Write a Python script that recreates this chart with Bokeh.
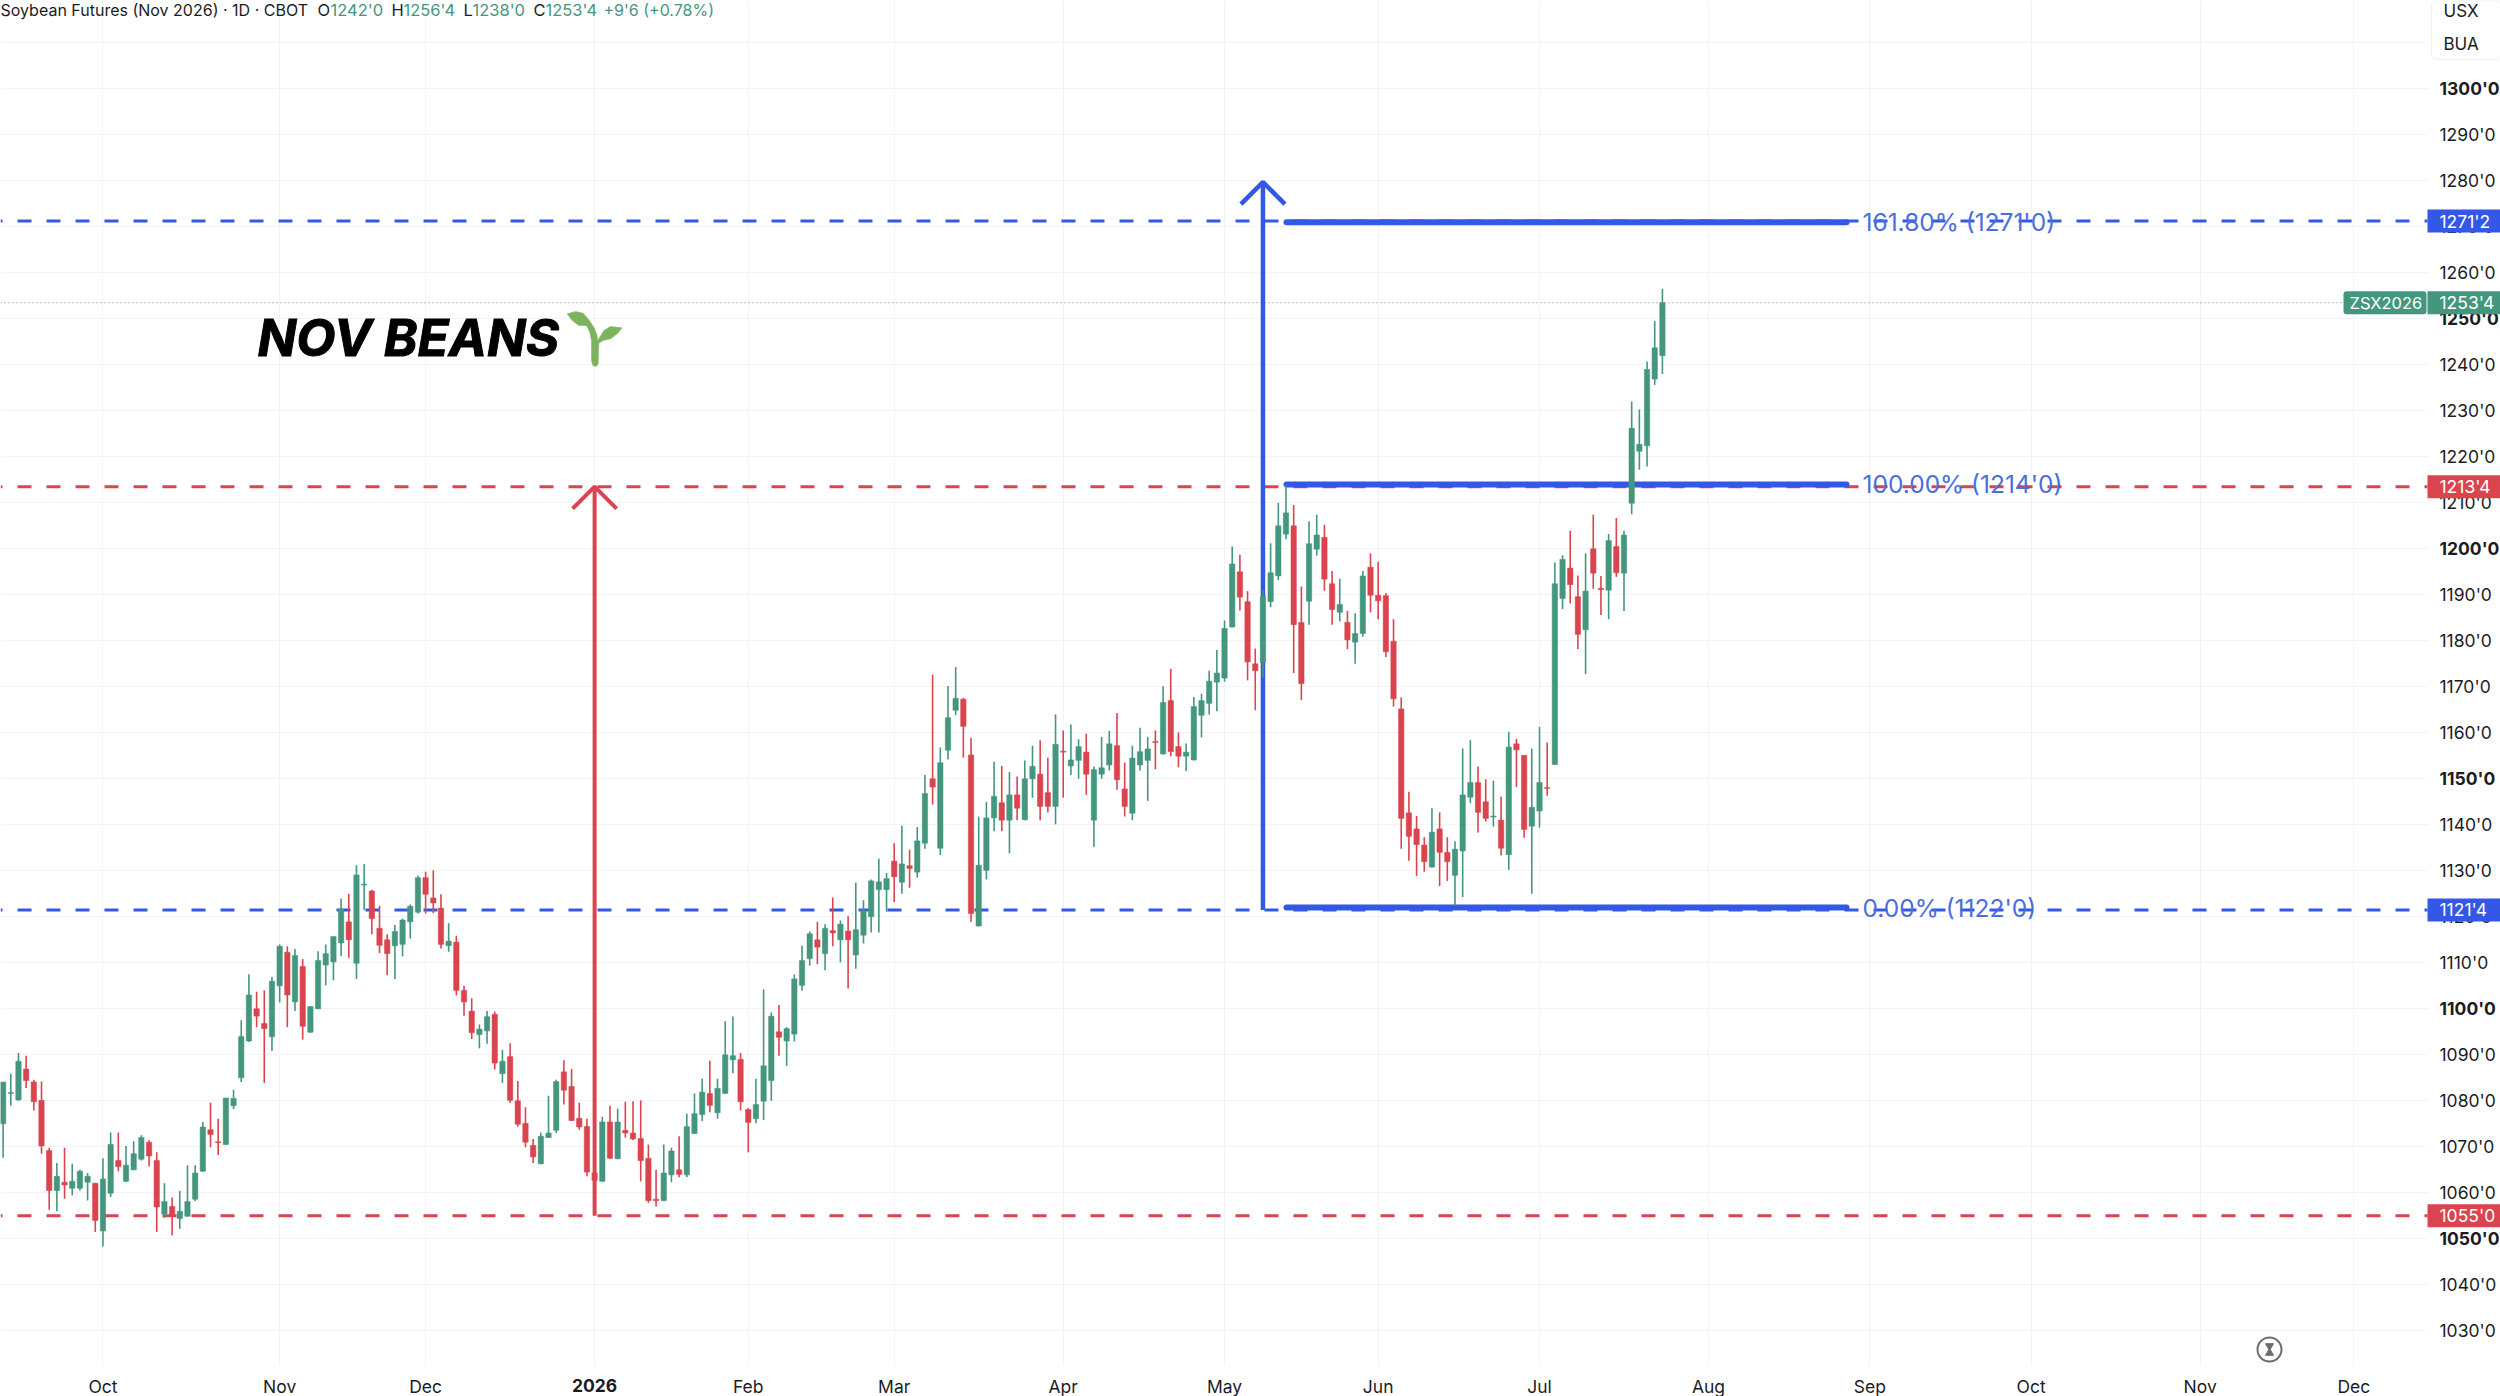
from bokeh.plotting import figure
from bokeh.models import Label, BoxAnnotation, FixedTicker, Range1d, LinearAxis, Grid
from bokeh.core.properties import value
from bokeh.embed import file_html
from bokeh.resources import INLINE

# ---------- chart values (cents/bushel, daily candles, trading-day order) ----------
opens = [1075.0,1081.6,1080.2,1086.9,1084.1,1080.1,1069.2,1060.5,1062.3,1061.0,1061.0,1062.3,1062.1,1051.7,1059.9,1067.0,1062.5,1065.0,1067.3,1071.0,
1067.0,1055.4,1057.0,1054.4,1054.9,1058.6,1064.7,1073.7,1071.1,1070.5,1078.9,1085.0,1093.0,1100.0,1096.8,1093.9,1105.0,1112.3,1101.5,1109.2,
1094.9,1100.0,1109.5,1110.2,1114.3,1118.9,1109.9,1126.9,1125.6,1117.5,1115.0,1113.7,1114.0,1118.9,1121.0,1128.5,1124.1,1121.9,1113.7,1114.5,
1104.0,1099.5,1094.4,1095.2,1098.8,1085.9,1089.6,1080.0,1075.1,1070.3,1066.3,1072.0,1073.6,1086.3,1083.1,1076.2,1074.4,1064.3,1062.5,1075.4,
1067.4,1073.6,1073.0,1071.8,1067.5,1058.6,1058.3,1063.9,1065.0,1063.9,1072.9,1077.0,1081.6,1077.4,1081.6,1088.9,1089.0,1078.1,1076.1,1079.9,
1084.4,1095.0,1093.0,1094.5,1105.1,1110.9,1115.0,1112.0,1117.0,1115.0,1116.9,1111.7,1116.0,1120.0,1125.9,1125.9,1132.1,1127.5,1131.1,1129.7,
1136.0,1150.0,1134.9,1156.2,1164.9,1167.3,1155.2,1118.0,1130.1,1141.5,1144.8,1141.0,1146.5,1141.1,1150.0,1151.0,1147.0,1144.0,1156.0,1152.8,
1154.0,1155.8,1141.0,1151.0,1153.0,1157.2,1147.8,1142.5,1153.0,1154.0,1158.1,1155.4,1167.0,1157.0,1154.9,1154.1,1163.8,1166.4,1171.0,1171.9,
1183.0,1195.0,1188.5,1175.0,1175.3,1188.5,1194.1,1203.2,1205.0,1184.0,1188.6,1199.9,1202.5,1192.4,1186.2,1184.0,1179.7,1181.6,1196.0,1189.9,
1189.8,1179.9,1165.2,1142.6,1139.1,1135.6,1130.8,1139.1,1134.0,1129.0,1134.3,1146.0,1149.2,1145.0,1141.7,1141.0,1133.5,1157.6,1155.1,1139.7,
1143.0,1148.1,1153.1,1189.2,1195.8,1189.6,1182.4,1200.0,1191.4,1191.0,1200.5,1194.7,1209.9,1221.2,1222.4,1236.9,1242.0]
highs = [1084.1,1085.9,1090.4,1089.8,1084.6,1084.2,1069.8,1066.5,1069.8,1066.3,1065.0,1064.3,1062.1,1067.5,1073.1,1073.1,1070.2,1071.2,1072.5,1071.4,
1068.8,1062.1,1059.0,1060.4,1066.0,1066.0,1075.4,1079.6,1076.1,1080.6,1082.4,1097.5,1107.5,1103.7,1104.0,1106.9,1114.0,1113.6,1113.0,1110.8,
1100.5,1112.5,1114.0,1115.7,1123.9,1125.0,1131.2,1131.5,1125.9,1122.4,1116.2,1118.2,1119.6,1122.7,1129.0,1129.8,1130.1,1124.9,1118.6,1115.9,
1105.0,1102.3,1096.6,1099.5,1099.4,1091.1,1092.5,1084.3,1078.6,1071.7,1073.1,1081.1,1084.6,1088.8,1086.9,1079.6,1076.1,1065.0,1076.5,1078.9,
1078.3,1079.8,1079.9,1080.1,1070.5,1065.0,1070.5,1069.8,1072.3,1077.2,1081.6,1084.8,1088.7,1084.8,1097.3,1098.3,1090.4,1078.4,1084.8,1104.2,
1099.2,1100.8,1096.0,1107.5,1113.7,1116.8,1118.9,1118.4,1124.2,1119.2,1120.1,1127.4,1123.6,1128.1,1132.6,1129.5,1136.0,1139.8,1134.6,1139.5,
1150.8,1172.6,1156.8,1170.2,1174.3,1167.6,1158.9,1141.8,1145.0,1153.7,1152.8,1151.5,1150.5,1154.0,1157.2,1158.4,1154.6,1164.0,1160.5,1161.8,
1158.6,1159.8,1152.7,1159.1,1160.4,1164.3,1153.5,1157.2,1161.1,1159.1,1160.5,1170.1,1173.9,1160.1,1157.7,1167.8,1168.5,1173.5,1178.0,1184.4,
1200.5,1198.7,1190.8,1178.3,1191.0,1201.2,1210.0,1213.8,1209.5,1191.8,1206.0,1207.4,1205.2,1195.2,1193.5,1186.5,1186.0,1195.2,1199.0,1197.2,
1190.4,1184.7,1167.7,1147.2,1141.9,1137.3,1143.6,1142.7,1137.3,1136.4,1156.6,1158.4,1152.7,1149.9,1149.6,1146.1,1160.2,1158.7,1155.1,1156.6,
1161.3,1157.9,1197.0,1198.6,1203.9,1194.2,1199.0,1207.4,1194.1,1203.2,1206.7,1203.9,1232.0,1230.3,1240.7,1249.5,1256.5]
lows = [1067.6,1079.0,1080.0,1082.8,1077.9,1068.5,1056.3,1056.0,1058.7,1059.4,1060.5,1058.3,1051.5,1048.3,1059.1,1064.7,1062.3,1064.9,1067.0,1065.7,
1051.5,1054.6,1050.7,1052.2,1054.8,1058.2,1064.6,1069.9,1068.2,1070.4,1078.2,1084.1,1092.8,1096.0,1083.9,1090.8,1101.4,1096.0,1099.5,1093.3,
1094.8,1099.9,1105.1,1106.2,1111.4,1111.1,1106.5,1121.4,1116.2,1112.1,1107.3,1106.5,1111.4,1115.3,1120.7,1120.7,1120.8,1113.1,1112.4,1102.9,
1098.5,1093.4,1091.4,1092.4,1086.8,1083.9,1079.6,1074.4,1069.9,1066.5,1066.2,1071.9,1073.0,1079.2,1075.6,1073.7,1063.6,1062.0,1062.4,1067.4,
1067.3,1072.0,1071.5,1062.5,1057.8,1057.0,1058.2,1062.3,1063.4,1063.4,1072.8,1075.6,1077.5,1076.1,1081.5,1086.0,1077.9,1068.8,1075.1,1075.8,
1080.0,1089.8,1087.6,1092.9,1103.9,1109.4,1109.7,1108.4,1113.6,1110.1,1104.4,1108.7,1114.2,1116.6,1116.6,1121.1,1123.2,1125.0,1126.3,1128.5,
1134.8,1144.4,1133.4,1154.2,1163.9,1154.6,1118.9,1117.9,1128.1,1138.6,1138.6,1133.8,1141.0,1141.0,1145.9,1141.0,1142.7,1140.1,1145.9,1150.8,
1150.0,1146.5,1135.2,1150.0,1151.8,1147.6,1141.8,1141.0,1151.8,1145.2,1152.1,1155.3,1154.9,1152.5,1151.7,1154.0,1159.0,1164.0,1164.7,1171.1,
1182.9,1186.6,1171.4,1164.9,1172.1,1187.3,1193.2,1202.1,1173.0,1167.1,1183.5,1198.5,1190.9,1183.5,1184.2,1178.2,1175.0,1180.9,1186.2,1184.7,
1176.5,1165.7,1134.8,1132.2,1128.9,1129.8,1130.7,1126.7,1127.8,1122.4,1124.3,1144.7,1138.3,1140.7,1139.6,1133.3,1130.2,1148.2,1137.2,1125.0,
1139.4,1146.3,1153.0,1186.9,1188.1,1178.2,1172.8,1191.3,1185.6,1184.7,1193.9,1186.5,1207.5,1217.2,1217.9,1235.6,1238.0]
closes = [1084.1,1081.8,1088.6,1084.4,1079.8,1070.2,1060.5,1063.6,1061.7,1062.5,1064.7,1063.6,1054.0,1063.0,1070.5,1065.7,1066.0,1068.5,1072.0,1068.0,
1056.9,1058.1,1054.9,1056.0,1058.1,1064.3,1074.3,1072.7,1070.9,1080.6,1080.5,1094.0,1103.0,1098.4,1095.7,1106.0,1113.6,1103.0,1111.6,1096.2,
1100.5,1110.5,1112.0,1115.7,1121.7,1115.0,1129.1,1127.1,1119.6,1113.8,1112.0,1116.8,1119.3,1122.3,1128.5,1124.9,1123.0,1114.0,1114.7,1104.0,
1101.5,1094.8,1095.6,1098.3,1088.2,1088.6,1080.1,1074.9,1071.0,1067.8,1072.3,1073.0,1084.2,1082.3,1075.7,1074.3,1064.5,1062.7,1075.4,1067.5,
1075.4,1073.0,1071.7,1067.0,1058.3,1058.3,1064.3,1069.1,1064.0,1074.4,1077.2,1081.9,1079.0,1082.7,1090.0,1089.8,1079.8,1075.3,1079.2,1087.6,
1098.4,1093.8,1095.7,1106.5,1110.5,1116.3,1113.4,1117.5,1116.5,1118.4,1115.0,1117.2,1121.4,1127.8,1127.6,1128.3,1128.7,1131.5,1130.5,1136.5,
1146.8,1148.2,1153.5,1163.3,1167.5,1161.4,1120.7,1131.2,1141.5,1146.2,1141.0,1146.5,1143.6,1150.0,1152.7,1144.0,1144.0,1157.5,1155.8,1154.1,
1157.0,1151.0,1152.0,1152.4,1157.6,1149.8,1144.0,1154.5,1155.9,1156.5,1157.9,1166.6,1155.9,1154.9,1155.8,1165.7,1167.0,1171.2,1173.0,1182.7,
1196.7,1189.5,1175.4,1173.5,1189.6,1194.8,1205.0,1207.8,1183.5,1170.7,1201.1,1203.0,1193.4,1186.8,1187.9,1180.2,1181.6,1194.1,1189.9,1188.7,
1177.6,1167.4,1141.4,1137.5,1135.7,1132.0,1138.4,1134.0,1132.0,1134.7,1146.5,1149.2,1142.7,1141.4,1141.9,1134.9,1156.9,1156.3,1139.0,1143.8,
1149.2,1147.9,1192.4,1197.7,1192.2,1181.4,1190.8,1194.7,1191.1,1201.8,1194.8,1203.0,1226.2,1222.7,1239.0,1243.7,1253.5]

month_bars = [13,36,55,77,97,116,138,159,179,200,222,243,264,286,306]
month_labels = ["Oct","Nov","Dec","2026","Feb","Mar","Apr","May","Jun","Jul","Aug","Sep","Oct","Nov","Dec"]
bold_months = ["2026"]
price_ticks = list(range(1030, 1320, 10))
major_prices = [1050, 1100, 1150, 1200, 1250, 1300]
hidden_prices = [1310]

red_level_high, red_level_low = 1213.5, 1055.0
blue_level_high, blue_level_low = 1271.25, 1121.5
last_price = 1253.5
fib_levels = [1271.0, 1214.0, 1122.0]
fib_labels = ["161.80% (1271'0)", "100.00% (1214'0)", "0.00% (1122'0)"]
red_arrow_bar, blue_arrow_bar = 77, 164
blue_arrow_top = 1279.7
header_parts = [("Soybean Futures (Nov 2026) · 1D · CBOT", 0, "k"), ("O", 317, "k"), ("1242'0", 330, "g"),
                ("H", 391, "k"), ("1256'4", 403, "g"), ("L", 463, "k"), ("1238'0", 472, "g"),
                ("C", 533, "k"), ("1253'4", 545, "g"), ("+9'6 (+0.78%)", 603, "g")]

# ---------- styles / layout ----------
GREEN, RED, BLUE = "#45967f", "#d9444f", "#3358e6"
FIB_TEXT = "#4a6ede"
GRID = "#f2f3f5"
TXT = "#1c1c1f"
FONT = "Inter"
W, H, FW, FH = 2500, 1396, 2427, 1365
BAR0, BAR_W = 2.6, 7.682
Y1300, PX_PER = 88.3, 4.6

def i_of(px):
    return (px - BAR0) / BAR_W
def v_of(py):
    return 1300 - (py - Y1300) / PX_PER

p = figure(frame_width=W, frame_height=H, output_backend="svg", toolbar_location=None,
           x_range=Range1d(i_of(0), i_of(W)), y_range=Range1d(v_of(H), v_of(0)),
           x_axis_location=None, y_axis_location=None,
           min_border_left=0, min_border_top=0, min_border_right=0, min_border_bottom=0,
           outline_line_color=None, background_fill_color="white", border_fill_color="white")
p.grid.visible = False

def style_axis(ax, standoff, size="17.5px", bold=False):
    ax.axis_line_color = None
    ax.major_tick_line_color = None
    ax.minor_tick_line_color = None
    ax.major_label_text_font = FONT
    ax.major_label_text_font_size = size
    ax.major_label_text_color = TXT
    ax.major_label_standoff = standoff
    if bold:
        ax.major_label_text_font_style = "bold"

# price scale: regular and bold labels are two axes on the same scale
normal_prices = [t for t in price_ticks if t not in major_prices and t not in hidden_prices]
y_ax = LinearAxis(ticker=FixedTicker(ticks=normal_prices), fixed_location=i_of(FW),
                  major_label_overrides={t: f"{t}'0" for t in normal_prices})
style_axis(y_ax, 6)
p.add_layout(y_ax, "right")
y_ax_b = LinearAxis(ticker=FixedTicker(ticks=major_prices), fixed_location=i_of(FW),
                    major_label_overrides={t: f"{t}'0" for t in major_prices})
style_axis(y_ax_b, 6, bold=True)
p.add_layout(y_ax_b, "right")

# time scale
normal_bars = [b for b, l in zip(month_bars, month_labels) if l not in bold_months]
x_ax = LinearAxis(ticker=FixedTicker(ticks=normal_bars), fixed_location=v_of(FH),
                  major_label_overrides={b: l for b, l in zip(month_bars, month_labels) if l not in bold_months})
style_axis(x_ax, 4)
p.add_layout(x_ax, "below")
bold_bars = [b for b, l in zip(month_bars, month_labels) if l in bold_months]
x_ax_b = LinearAxis(ticker=FixedTicker(ticks=bold_bars), fixed_location=v_of(FH),
                    major_label_overrides={b: l for b, l in zip(month_bars, month_labels) if l in bold_months})
style_axis(x_ax_b, 7, bold=True)
p.add_layout(x_ax_b, "below")

p.add_layout(Grid(dimension=0, ticker=FixedTicker(ticks=month_bars), grid_line_color=GRID, grid_line_width=1))
p.add_layout(Grid(dimension=1, ticker=FixedTicker(ticks=price_ticks), grid_line_color=GRID, grid_line_width=1))
# the grid stops at the price and time scales
p.quad(left=[i_of(FW), i_of(0)], right=[i_of(W), i_of(W)], top=[v_of(0), v_of(FH)], bottom=[v_of(H), v_of(H)],
       fill_color="white", line_color=None)

# reference levels
x_l, x_r = i_of(0), i_of(FW)
for lvl, col in [(blue_level_high, BLUE), (red_level_high, RED), (blue_level_low, BLUE), (red_level_low, RED)]:
    p.line([x_l, x_r], [lvl, lvl], line_color=col, line_width=3, line_dash="14 15", line_dash_offset=12)
p.line([x_l, i_of(2344)], [last_price, last_price], line_color="#5f8377", line_width=1, line_dash="1 3")

# arrows
hw, hh = 22 / BAR_W, 22 / PX_PER
p.line([red_arrow_bar, red_arrow_bar], [red_level_low, red_level_high], line_color=RED, line_width=4)
p.line([red_arrow_bar - hw, red_arrow_bar, red_arrow_bar + hw],
       [red_level_high - hh, red_level_high, red_level_high - hh], line_color=RED, line_width=4)
p.line([blue_arrow_bar, blue_arrow_bar], [blue_level_low, blue_arrow_top], line_color=BLUE, line_width=4.5)
p.line([blue_arrow_bar - hw, blue_arrow_bar, blue_arrow_bar + hw],
       [blue_arrow_top - hh, blue_arrow_top, blue_arrow_top - hh], line_color=BLUE, line_width=4.5)

# fib levels
fx0, fx1 = i_of(1286), i_of(1846)
for lvl in fib_levels:
    p.line([fx0, fx1], [lvl, lvl], line_color=BLUE, line_width=6, line_cap="round")

# candles
idx = list(range(len(closes)))
colors = [GREEN if c >= o else RED for o, c in zip(opens, closes)]
p.segment(idx, highs, idx, lows, line_color=colors, line_width=1.6)
p.vbar(x=idx, bottom=[min(o, c) for o, c in zip(opens, closes)], top=[max(o, c) for o, c in zip(opens, closes)],
       width=5.4 / BAR_W, fill_color=colors, line_color=colors, line_width=0.5)

# fib labels
p.text(x=[i_of(1862)] * 3, y=fib_levels, text=fib_labels, text_color=FIB_TEXT, text_font=value(FONT),
       text_font_size="24.5px", text_baseline="middle", text_align="left")

# sprout decoration
sprout_px = [(20,40),(45,33),(68,38),(85,58),(100,80),(108,100),(112,120),(130,90),(150,78),(185,82),(170,100),
             (150,115),(128,120),(115,128),(113,190),(107,198),(97,195),(93,180),(93,120),(88,95),(78,75),(55,75),(35,60)]
p.patch([i_of(560 + a / 3) for a, _ in sprout_px], [v_of(300 + b / 3) for _, b in sprout_px],
        fill_color="#7db35f", line_color="#7db35f", line_width=0.5)

# hourglass badge
hx, hy = i_of(2269), v_of(1349)
p.scatter([hx], [hy], size=24, marker="circle", fill_color="white", line_color="#6d6d6f", line_width=2)
p.scatter([hx], [v_of(1345.5)], size=8, marker="inverted_triangle", fill_color="#6d6d6f", line_color="#6d6d6f")
p.scatter([hx], [v_of(1352.5)], size=8, marker="triangle", fill_color="#6d6d6f", line_color="#6d6d6f")

def txt(px, py, s, color=TXT, size=17, style="normal", align="left", **kw):
    p.add_layout(Label(x=i_of(px), y=v_of(py), text=s, text_color=color, text_font=FONT,
                       text_font_size=f"{size}px", text_font_style=style, text_baseline="middle", text_align=align, **kw))

def box(l, r, t, b, color, line=None, radius=0):
    p.add_layout(BoxAnnotation(left=i_of(l), right=i_of(r), top=v_of(t), bottom=v_of(b), fill_color=color,
                               fill_alpha=1, line_color=line, line_alpha=1 if line else 0, border_radius=radius))

# title and legend
txt(257, 337, "NOV BEANS", color="#000000", size=51, style="bold italic", text_outline_color="#000000")
for s, x, c in header_parts:
    txt(x, 9, s, color=(GREEN if c == "g" else TXT), size=(16 if (x == 0 or x == 603) else 16.5))

# currency / unit panel
box(2431, 2500, 0, 59, "#ffffff", line="#f0f0f2", radius=5)
txt(2443, 10, "USX", size=17)
txt(2443, 43, "BUA", size=17)

# price tags
def tag(v, s, color):
    cy = Y1300 + (1300 - v) * PX_PER
    box(2427, 2500, cy - 11.5, cy + 11.5, color)
    txt(2439, cy, s, color="#ffffff", size=17.5)

tag(blue_level_high, "1271'2", BLUE)
tag(red_level_high, "1213'4", RED)
tag(blue_level_low, "1121'4", BLUE)
tag(red_level_low, "1055'0", RED)
tag(last_price, "1253'4", GREEN)
last_y = Y1300 + (1300 - last_price) * PX_PER
box(2343, 2426, last_y - 11.5, last_y + 11.5, GREEN, radius=3)
txt(2349, last_y, "ZSX2026", color="#ffffff", size=16.5)

open("out.html", "w").write(file_html(p, INLINE))
